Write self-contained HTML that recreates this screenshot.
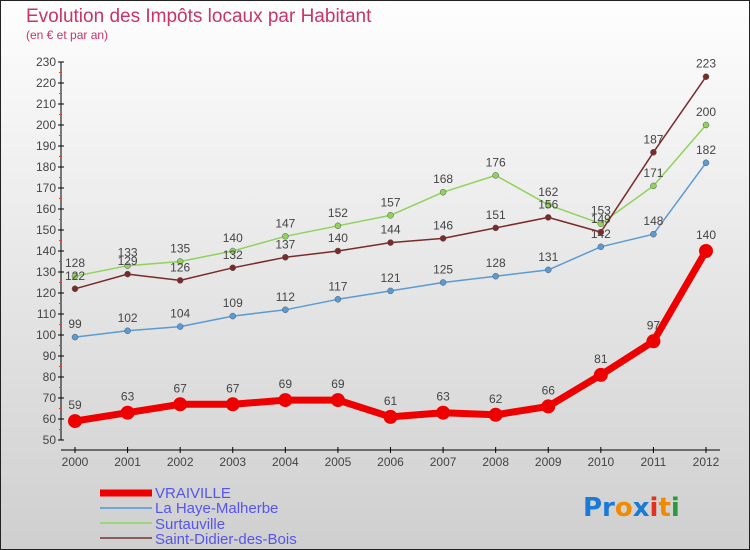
<!DOCTYPE html>
<html><head><meta charset="utf-8"><style>
body{margin:0}
#c{width:750px;height:550px;position:relative;overflow:hidden;font-family:"Liberation Sans",sans-serif}
</style></head><body>
<div id="c">
<svg id="s" width="750" height="550" xmlns="http://www.w3.org/2000/svg">
<defs><linearGradient id="bg" x1="0" y1="0" x2="0" y2="1"><stop offset="0" stop-color="#fefefe"/><stop offset="1" stop-color="#cfcfcf"/></linearGradient></defs>
<rect x="0.5" y="0.5" width="749" height="549" fill="url(#bg)" stroke="#222"/>
<text x="26" y="22" font-size="19" fill="#c8336a">Evolution des Impôts locaux par Habitant</text>
<text x="26" y="39" font-size="12" fill="#c8336a">(en € et par an)</text>
<g id="axes"></g><g id="series"></g>
<g>
<line x1="100" y1="493" x2="152" y2="493" stroke="#e00" stroke-width="7"/>
<text x="155" y="498" font-size="15" fill="#5555ee">VRAIVILLE</text>
<line x1="100" y1="508" x2="152" y2="508" stroke="#6fa6d6" stroke-width="2"/>
<text x="155" y="513" font-size="15" fill="#5555ee">La Haye-Malherbe</text>
<line x1="100" y1="523" x2="152" y2="523" stroke="#9cd67a" stroke-width="2"/>
<text x="155" y="529" font-size="15" fill="#5555ee">Surtauville</text>
<line x1="100" y1="538" x2="152" y2="538" stroke="#8b5a5a" stroke-width="2"/>
<text x="155" y="544" font-size="15" fill="#5555ee">Saint-Didier-des-Bois</text>
</g>
<g font-size="26" font-family="DejaVu Sans,sans-serif" font-weight="bold">
<text x="583" y="516"><tspan fill="#1a7ad6">Pr</tspan><tspan fill="#f08a00">o</tspan><tspan fill="#1a7ad6">x</tspan><tspan fill="#e03020">i</tspan><tspan fill="#f08a00">t</tspan><tspan fill="#2a9a3a">i</tspan></text>
</g>
</svg>
</div>
<script>
const years=[2000,2001,2002,2003,2004,2005,2006,2007,2008,2009,2010,2011,2012];
const vraiville=[59,63,67,67,69,69,61,63,62,66,81,97,140];
const laHaye=[99,102,104,109,112,117,121,125,128,131,142,148,182];
const surtauville=[128,133,135,140,147,152,157,168,176,162,153,171,200];
const saintDidier=[122,129,126,132,137,140,144,146,151,156,149,187,223];
const yTicks=[50,60,70,80,90,100,110,120,130,140,150,160,170,180,190,200,210,220,230];
const NS="http://www.w3.org/2000/svg";
const X=i=>75+i*(706-75)/12;
const Y=v=>440-(v-50)*21/10;
function mk(t,a,p){const e=document.createElementNS(NS,t);for(const k in a)e.setAttribute(k,a[k]);p.appendChild(e);return e;}
const ax=document.getElementById('axes');
let yl=mk('line',{x1:61,y1:Y(230),x2:61,y2:Y(50),stroke:'#000'},ax);


yTicks.forEach(v=>{
 mk('line',{x1:58,x2:64,y1:Y(v),y2:Y(v),stroke:'#000'},ax);
 if(v<230)mk('line',{x1:59,x2:62,y1:Y(v+5),y2:Y(v+5),stroke:'#f33'},ax);
 const t=mk('text',{x:56,y:Y(v)+4,'text-anchor':'end','font-size':12,fill:'#444'},ax);t.textContent=v;
 
 
});
let xl=mk('line',{x1:61,y1:450,x2:720,y2:450,stroke:'#000'},ax);


years.forEach((y,i)=>{
 mk('line',{x1:X(i),x2:X(i),y1:447,y2:453,stroke:'#000'},ax);
 const t=mk('text',{x:X(i),y:466,'text-anchor':'middle','font-size':12,fill:'#444'},ax);t.textContent=y;
 
 
});
const sg=document.getElementById('series');
function draw(d,name,col,w,r,dy){
 const g=mk('g',{},sg);
 
 
 mk('polyline',{points:d.map((v,i)=>X(i)+','+Y(v)).join(' '),fill:'none',stroke:col,'stroke-width':w,'stroke-linejoin':'round'},g);
 d.forEach((v,i)=>{
  const c=mk('circle',{cx:X(i),cy:Y(v),r:r,fill:col,stroke:w>3?col:'#555','stroke-width':w>3?0:0.5},g);
  
  
  const t=mk('text',{x:X(i),y:Y(v)+dy,'text-anchor':'middle','font-size':12,fill:'#444'},g);t.textContent=v;
 });
}
draw(laHaye,'series-la-haye','#5b9bd5',1.5,3,-9);
draw(surtauville,'series-surtauville','#8fd35a',1.5,3,-9);
draw(saintDidier,'series-saint-didier','#7a2a2a',1.5,3,-9);
draw(vraiville,'series-vraiville','#ee0000',7,7,-12);
</script>
</body></html>
